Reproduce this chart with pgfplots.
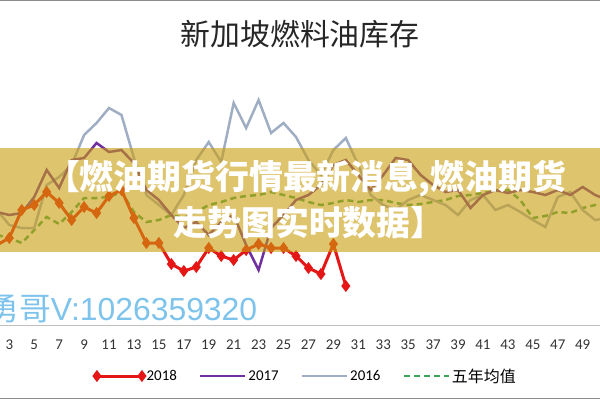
\documentclass[border=0pt]{standalone}
\usepackage{pgfplots}
\pgfplotsset{compat=1.18}
\usepackage{fontspec}
\setmainfont{Carlito}
\newfontfamily\cjk{Noto Sans CJK SC}
\newfontfamily\wmfont{Liberation Sans}

\definecolor{c2018}{RGB}{228,22,22}
\definecolor{c2017}{RGB}{112,48,160}
\definecolor{c2016}{RGB}{160,174,196}
\definecolor{cavg}{RGB}{60,165,85}
\definecolor{banner}{RGB}{202,157,13}
\definecolor{wm}{RGB}{125,195,235}

% weekly values, height above the x axis line
\pgfplotstableread{
w v
2 80
3 87
4 115
5 120
6 133
7 122
8 105
9 118
10 112
11 129
12 135
13 107
14 82
15 82
16 61
17 54
18 58
19 77
20 69
21 65
22 75
23 81
24 77
25 77
26 69
27 57
28 51
29 81
30 39
}\tbla
\pgfplotstableread{
w v
2 113
3 110
4 112
5 128
6 155
7 137
8 165
9 167
10 182
11 173
12 175
13 162
14 135
15 125
16 110
17 97
18 103
19 90
20 103
21 110
22 80
23 55
24 97
25 110
26 125
27 130
28 140
29 160
30 165
31 150
32 135
33 150
34 167
35 165
36 150
37 140
38 133
39 135
40 117
41 130
42 135
43 132
44 135
45 133
46 130
47 135
48 130
49 138
50 130
51 125
}\tblb
\pgfplotstableread{
w v
2 115
3 100
4 97
5 97
6 140
7 148
8 160
9 190
10 202
11 217
12 210
13 167
14 130
15 120
16 110
17 130
18 165
19 183
20 163
21 222
22 197
23 225
24 192
25 202
26 188
27 165
28 150
29 175
30 187
31 160
32 130
33 120
34 115
35 125
36 130
37 125
38 120
39 110
40 125
41 130
42 115
43 120
44 113
45 105
46 98
47 128
48 133
49 115
50 105
51 107
}\tblc
\pgfplotstableread{
w v
2 90
3 87
4 82
5 95
6 108
7 101
8 113
9 127
10 127
11 128
12 133
13 113
14 103
15 105
16 110
17 107
18 113
19 120
20 123
21 127
22 129
23 130
24 133
25 130
26 127
27 123
28 120
29 122
30 125
31 123
32 125
33 125
34 122
35 120
36 121
37 123
38 125
39 129
40 130
41 132
42 134
43 135
44 125
45 107
46 109
47 113
48 112
49 117
50 120
51 118
}\tbld

\begin{document}
\begin{tikzpicture}[x=1bp,y=1bp]
\path[use as bounding box] (0,0) rectangle (600,400);
\clip (0,0) rectangle (600,400);

\begin{axis}[
    at={(0,75)}, anchor=south west,
    width=600bp, height=325bp, scale only axis,
    xmin=2.254, xmax=50.39,
    ymin=0, ymax=325,
    axis y line=none,
    axis x line*=bottom,
    x axis line style={draw=black!25, line width=1bp, -},
    xtick={3,5,...,49},
    major tick length=0pt,
    /pgf/number format/assume math mode=true,
    xticklabel style={font=\fontsize{15}{18}\selectfont, text=black!80, yshift=-11bp},
    legend columns=4,
    reverse legend,
    legend style={
        at={(0.51,-0.157)}, anchor=center,
        draw=none, fill=none,
        font=\fontsize{15}{18}\selectfont,
        /tikz/every even column/.append style={column sep=20bp},
        inner sep=0pt,
    },
    legend image code/.code={
        \draw[#1] plot coordinates {(0bp,0bp) (45bp,0bp)};
    },
]
\addplot[cavg, line width=2.5bp, dash pattern=on 6bp off 4bp] table[x=w,y=v] {\tbld};
\addlegendentry{\cjk\fontsize{16}{18}\selectfont 五年均值}
\addplot[c2016, line width=2.5bp] table[x=w,y=v] {\tblc};
\addlegendentry{2016}
\addplot[c2017, line width=2.5bp] table[x=w,y=v] {\tblb};
\addlegendentry{2017}
\addplot[c2018, line width=3bp, mark=diamond*, mark size=3.6bp,
    mark options={solid, fill=c2018}] table[x=w,y=v] {\tbla};
\addlegendentry{2018}
\end{axis}

% frame lines
\draw[black!45, line width=1.2bp] (0,399.4) -- (600,399.4);
\draw[black!45, line width=1.2bp] (0,1.5) -- (600,1.5);

% title
\node[font=\cjk\fontsize{30}{32}\selectfont, text=black!85] at (300,366) {新加坡燃料油库存};

% overlay banner
\fill[banner, fill opacity=0.6] (0,148) rectangle (600,252);
\node[font=\cjk\bfseries\fontsize{34}{36}\selectfont, text=white] at (306,221) {【燃油期货行情最新消息,燃油期货};
\node[font=\cjk\bfseries\fontsize{34}{36}\selectfont, text=white] at (309,178) {走势图实时数据】};

% watermark
\node[anchor=west, inner sep=0pt, text=wm, font=\fontsize{32}{34}\selectfont] at (-13,91) {{\cjk 勇哥}{\wmfont V:1026359320}};
\end{tikzpicture}
\end{document}
